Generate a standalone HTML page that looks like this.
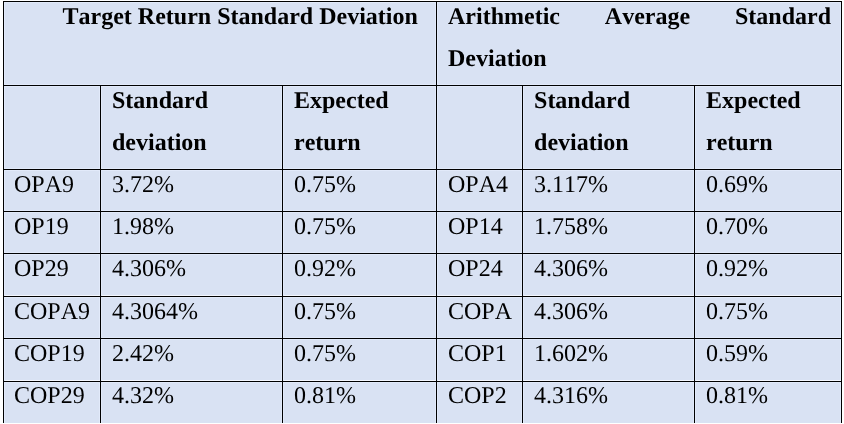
<!DOCTYPE html>
<html><head><meta charset="utf-8"><title>Standard deviation and expected return</title>
<style>
html,body{margin:0;padding:0;background:#fff;}
body{width:844px;height:424px;overflow:hidden;position:relative;
 font-family:"Liberation Serif","Times New Roman",serif;font-size:24px;color:#000;
 text-rendering:geometricPrecision;font-kerning:none;font-feature-settings:"kern" 0,"liga" 0;}
table{position:absolute;left:3px;top:1px;border-collapse:separate;border-spacing:0;table-layout:fixed;
 width:839px;background:#D9E2F3;border-left:1px solid #000;border-top:1px solid #000;}
td,th{box-sizing:border-box;padding:0 0 0 11px;vertical-align:top;text-align:left;white-space:nowrap;
 border-right:1px solid #000;border-bottom:1px solid #000;line-height:42px;
 box-shadow:inset 1px 1px 0 #E2EAFA,inset -1px -1px 0 #E2EAFA;}
th{font-weight:bold;}
td:first-child{padding-left:10px;}
.in{display:block;}
tr.r5 td,tr.r7 td{box-shadow:inset 1px 1px 0 #E2EAFA,inset 0 -1px 0 #F4F7FE,inset -1px 0 0 #E2EAFA;}
tr.last td{border-bottom:none;box-shadow:inset 1px 1px 0 #E2EAFA,inset -1px 0 0 #E2EAFA;}
th.t1{padding-left:58.5px;}
th.t2{white-space:normal;text-align:justify;text-align-last:left;padding-right:10px;}
</style></head><body>
<table>
<colgroup><col style="width:97px"><col style="width:182px"><col style="width:154px"><col style="width:86px"><col style="width:172px"><col style="width:147px"></colgroup>
<tr style="height:84px"><th colspan="3" class="t1"><div class="in" style="margin-top:-6px">Target Return Standard Deviation</div></th><th colspan="3" class="t2"><div class="in" style="margin-top:-6px">Arithmetic Average Standard Deviation</div></th></tr>
<tr style="height:84px"><th></th><th><div class="in" style="margin-top:-6px">Standard<br>deviation</div></th><th><div class="in" style="margin-top:-6px">Expected<br>return</div></th><th></th><th><div class="in" style="margin-top:-6px">Standard<br>deviation</div></th><th><div class="in" style="margin-top:-6px">Expected<br>return</div></th></tr>
<tr style="height:42px"><td><div class="in" style="margin-top:-6px">OPA9</div></td><td><div class="in" style="margin-top:-6px">3.72%</div></td><td><div class="in" style="margin-top:-6px">0.75%</div></td><td><div class="in" style="margin-top:-6px">OPA4</div></td><td><div class="in" style="margin-top:-6px">3.117%</div></td><td><div class="in" style="margin-top:-6px">0.69%</div></td></tr>
<tr style="height:42px"><td><div class="in" style="margin-top:-6px">OP19</div></td><td><div class="in" style="margin-top:-6px">1.98%</div></td><td><div class="in" style="margin-top:-6px">0.75%</div></td><td><div class="in" style="margin-top:-6px">OP14</div></td><td><div class="in" style="margin-top:-6px">1.758%</div></td><td><div class="in" style="margin-top:-6px">0.70%</div></td></tr>
<tr class="r5" style="height:43px"><td><div class="in" style="margin-top:-6px">OP29</div></td><td><div class="in" style="margin-top:-6px">4.306%</div></td><td><div class="in" style="margin-top:-6px">0.92%</div></td><td><div class="in" style="margin-top:-6px">OP24</div></td><td><div class="in" style="margin-top:-6px">4.306%</div></td><td><div class="in" style="margin-top:-6px">0.92%</div></td></tr>
<tr style="height:42px"><td><div class="in" style="margin-top:-6.5px">COPA9</div></td><td><div class="in" style="margin-top:-6.5px">4.3064%</div></td><td><div class="in" style="margin-top:-6.5px">0.75%</div></td><td><div class="in" style="margin-top:-6.5px">COPA</div></td><td><div class="in" style="margin-top:-6.5px">4.306%</div></td><td><div class="in" style="margin-top:-6.5px">0.75%</div></td></tr>
<tr class="r7" style="height:43px"><td><div class="in" style="margin-top:-6px">COP19</div></td><td><div class="in" style="margin-top:-6px">2.42%</div></td><td><div class="in" style="margin-top:-6px">0.75%</div></td><td><div class="in" style="margin-top:-6px">COP1</div></td><td><div class="in" style="margin-top:-6px">1.602%</div></td><td><div class="in" style="margin-top:-6px">0.59%</div></td></tr>
<tr class="last" style="height:41px"><td><div class="in" style="margin-top:-7px">COP29</div></td><td><div class="in" style="margin-top:-7px">4.32%</div></td><td><div class="in" style="margin-top:-7px">0.81%</div></td><td><div class="in" style="margin-top:-7px">COP2</div></td><td><div class="in" style="margin-top:-7px">4.316%</div></td><td><div class="in" style="margin-top:-7px">0.81%</div></td></tr>
</table>
</body></html>
